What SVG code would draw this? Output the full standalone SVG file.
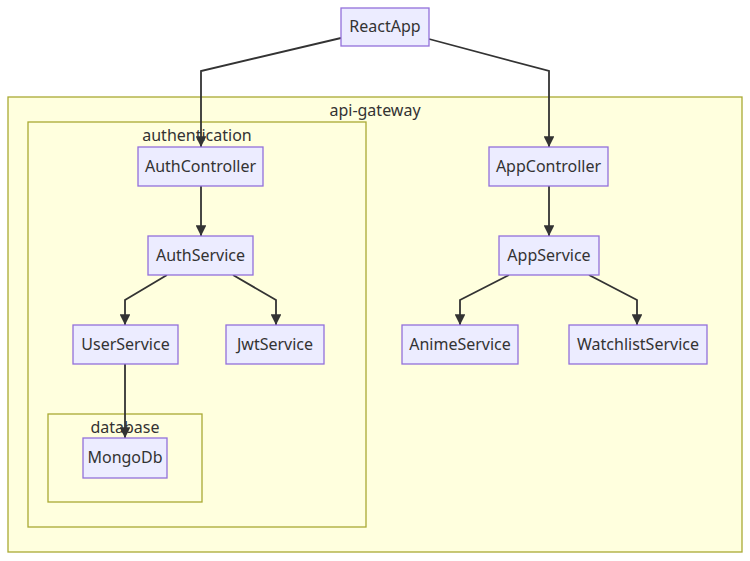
<svg xmlns="http://www.w3.org/2000/svg" width="750" height="561" viewBox="0 0 750 561">
<style>
.cluster{fill:#ffffde;stroke:#aaaa33;stroke-width:1.3}
.node rect{fill:#ECECFF;stroke:#9370DB;stroke-width:1.3}
text{font-family:"Noto Sans","DejaVu Sans",sans-serif;font-size:16px;fill:#333;text-anchor:middle;dominant-baseline:central}
.edge{fill:none;stroke:#333;stroke-width:1.8}
</style>
<defs>
<marker id="arr" viewBox="0 0 10 10" refX="10" refY="5" markerWidth="6" markerHeight="6" markerUnits="strokeWidth" orient="auto">
<path d="M0,0 L10,5 L0,10 z" fill="#333"/>
</marker>
</defs>
<rect fill="#ffffff" width="750" height="561"/>
<g id="api-gateway"><rect class="cluster" x="8" y="97" width="734" height="455"/><text x="375" y="110">api-gateway</text></g>
<g id="authentication"><rect class="cluster" x="28" y="122" width="338" height="405"/><text x="197" y="135">authentication</text></g>
<g id="database"><rect class="cluster" x="48" y="414" width="154" height="88"/><text x="125" y="427">database</text></g>
<g id="edges">
<path class="edge" marker-end="url(#arr)" d="M341,38 L201,71 L201,147"/>
<path class="edge" marker-end="url(#arr)" d="M429,39 L549,71 L549,147"/>
<path class="edge" marker-end="url(#arr)" d="M201,186 L201,236"/>
<path class="edge" marker-end="url(#arr)" d="M167,275 L125,300 L125,325"/>
<path class="edge" marker-end="url(#arr)" d="M233,275 L276,300 L276,325"/>
<path class="edge" marker-end="url(#arr)" d="M125,364 L125,438"/>
<path class="edge" marker-end="url(#arr)" d="M549,186 L549,236"/>
<path class="edge" marker-end="url(#arr)" d="M509,275 L460,300 L460,325"/>
<path class="edge" marker-end="url(#arr)" d="M589,275 L637,300 L637,325"/>
</g>
<g id="ReactApp" class="node"><rect x="341" y="8" width="88" height="38"/><text x="385" y="26">ReactApp</text></g>
<g id="AuthController" class="node"><rect x="138" y="147" width="125" height="39"/><text x="200.5" y="165.5">AuthController</text></g>
<g id="AuthService" class="node"><rect x="148" y="236" width="105" height="39"/><text x="200.5" y="254.5">AuthService</text></g>
<g id="UserService" class="node"><rect x="73" y="325" width="105" height="39"/><text x="125.5" y="343.5">UserService</text></g>
<g id="JwtService" class="node"><rect x="226" y="325" width="98" height="39"/><text x="275" y="343.5">JwtService</text></g>
<g id="MongoDb" class="node"><rect x="83" y="438" width="84" height="40"/><text x="125" y="457">MongoDb</text></g>
<g id="AppController" class="node"><rect x="489" y="147" width="119" height="39"/><text x="548.5" y="165.5">AppController</text></g>
<g id="AppService" class="node"><rect x="499" y="236" width="100" height="39"/><text x="549" y="254.5">AppService</text></g>
<g id="AnimeService" class="node"><rect x="402" y="325" width="116" height="39"/><text x="460" y="343.5">AnimeService</text></g>
<g id="WatchlistService" class="node"><rect x="569" y="325" width="138" height="39"/><text x="638" y="343.5">WatchlistService</text></g>
</svg>
